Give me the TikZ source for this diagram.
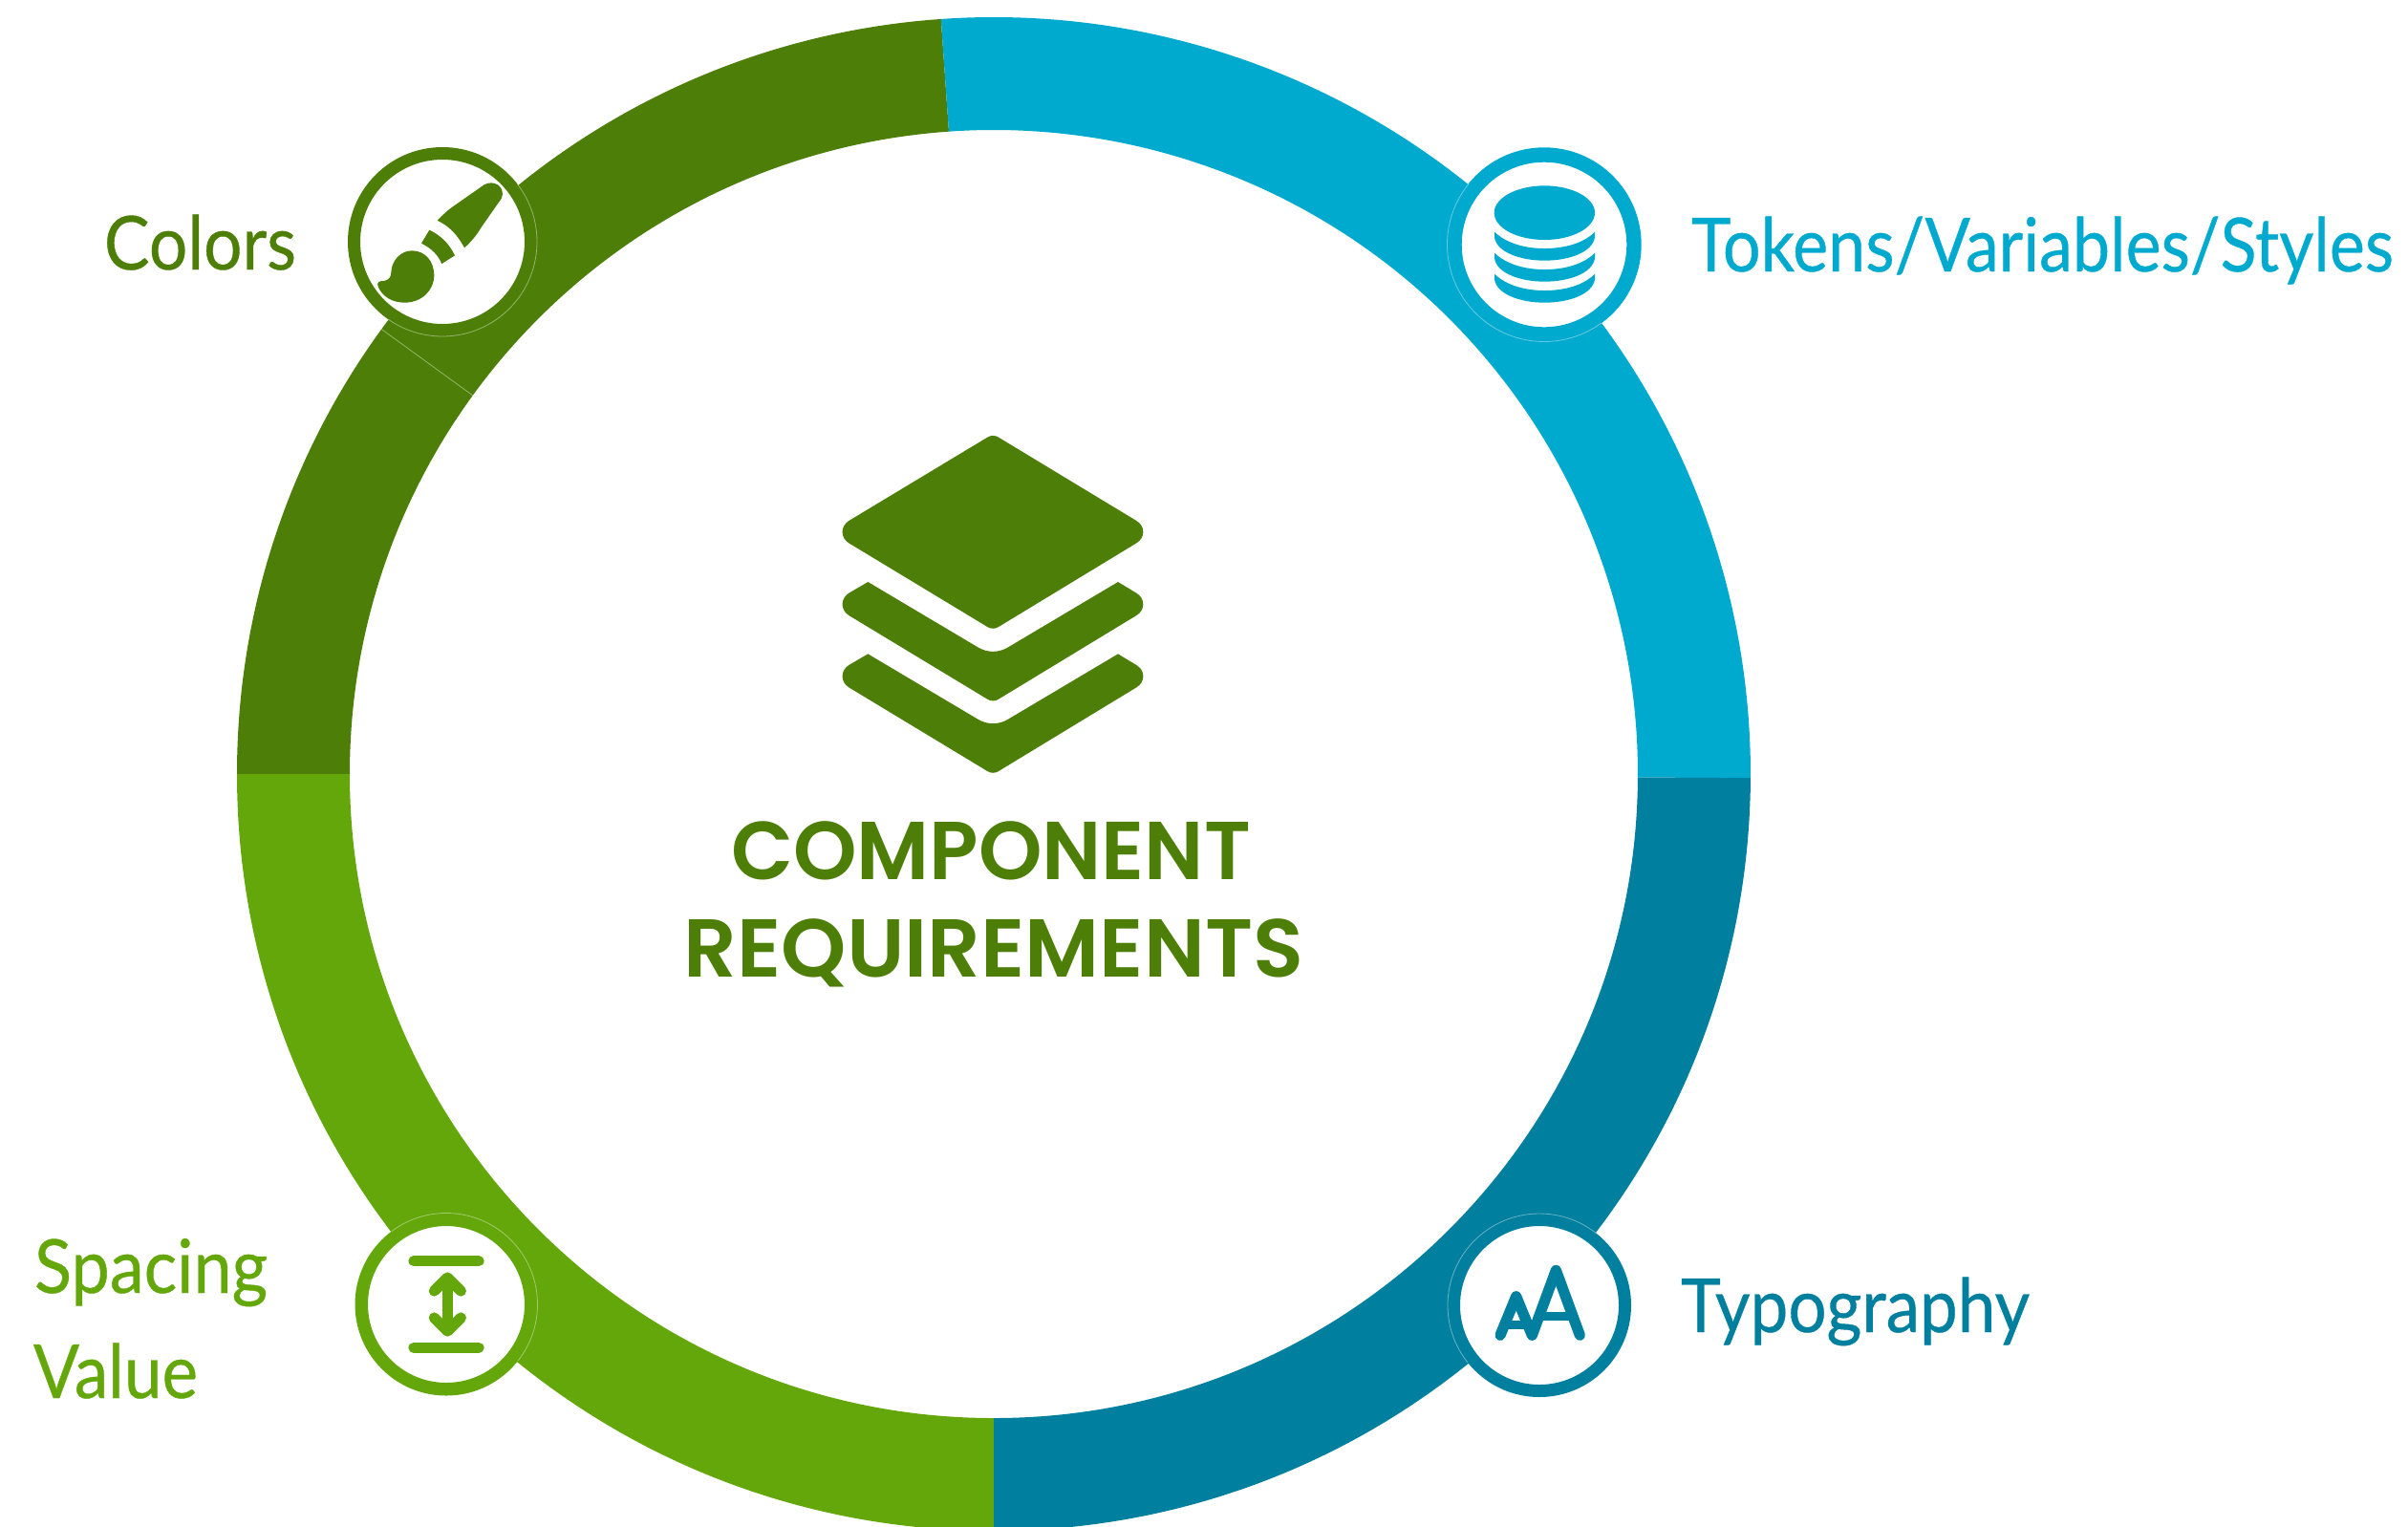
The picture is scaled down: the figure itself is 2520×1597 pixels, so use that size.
\documentclass[tikz,border=0pt]{standalone}
\usepackage{graphicx}
\usepackage{fontspec}
\setmainfont{Lato}[FakeBold=0.5]
\newfontfamily\ttlfont{Poppins SemiBold}
\definecolor{dkgreen}{HTML}{4D7F08}
\definecolor{ltgreen}{HTML}{64A70B}
\definecolor{ltblue}{HTML}{00A9CE}
\definecolor{dkblue}{HTML}{007F9E}
\newcommand\fitw[2]{\resizebox{#1}{\height}{#2}}
\newcommand\labfont{\fontsize{39}{42}\selectfont}
\newcommand\bigfont{\ttlfont\fontsize{43}{46}\selectfont}
\tikzset{
  badge/.style={circle,draw=#1,fill=white,inner sep=0pt,outer sep=0pt},
  lab/.style={anchor=base west,inner sep=0pt,outer sep=0pt,text=#1},
  ttl/.style={anchor=base,inner sep=0pt,outer sep=0pt,text=dkgreen},
  hair/.style={draw=white,draw opacity=0.4,line width=0.4pt},
  zoomed/.style={x=0.16667pt,y=-0.16667pt},
  up/.style={x=0.5pt,y=0.5pt},
  ico/.style={draw=#1,line width=5.6pt,line cap=round,line join=round}
}
\begin{document}
\begin{tikzpicture}[x=0.5pt,y=-0.5pt]
\useasboundingbox (0,0) rectangle (2520,1597);
\begin{scope}
\clip (0,0) rectangle (2520,1597);
\begin{scope}[shift={(1040,810)},up]
\fill[dkgreen] (180:792) arc[start angle=180,end angle=94,radius=792] -- (94:674) arc[start angle=94,end angle=180,radius=674] -- cycle;
\fill[ltblue] (94:792) arc[start angle=94,end angle=-0.3,radius=792] -- (-0.3:674) arc[start angle=-0.3,end angle=94,radius=674] -- cycle;
\fill[ltgreen] (180:792) arc[start angle=180,end angle=270,radius=792] -- (270:674) arc[start angle=270,end angle=180,radius=674] -- cycle;
\fill[dkblue] (270:792) arc[start angle=270,end angle=359.7,radius=792] -- (359.7:674) arc[start angle=359.7,end angle=270,radius=674] -- cycle;
\draw[hair] (144:674) -- (144:792);
\end{scope}
\end{scope}
% badges
\node[badge=dkgreen,minimum size=92.5pt,line width=6.5pt] (b1) at (463,253) {};
\node[badge=ltblue,minimum size=94pt,line width=7.7pt] (b2) at (1616,256) {};
\node[badge=ltgreen,minimum size=88.75pt,line width=6.75pt] (b3) at (467,1365) {};
\node[badge=dkblue,minimum size=89.5pt,line width=6.5pt] (b4) at (1611,1366) {};
\begin{scope}[shift={(b1.center)},up]
\draw[hair] (37.6:99) arc[start angle=37.6,end angle=-125,radius=99];
\end{scope}
\begin{scope}[shift={(b2.center)},up]
\draw[hair] (141:101.5) arc[start angle=141,end angle=306,radius=101.5];
\end{scope}
\begin{scope}[shift={(b3.center)},up]
\draw[hair] (127:95.5) arc[start angle=127,end angle=-38,radius=95.5];
\end{scope}
\begin{scope}[shift={(b4.center)},up]
\draw[hair] (52:96) arc[start angle=52,end angle=218.6,radius=96];
\end{scope}
% brush icon
\begin{scope}[shift={(330,120)},zoomed]
\fill[dkgreen] (383,332) .. controls (400,315) and (415,300) .. (430,290) -- (530,220) .. controls (560,203) and (598,225) .. (585,262) -- (520,355) .. controls (505,380) and (490,398) .. (468,418) .. controls (445,375) and (420,350) .. (383,332) -- cycle;
\fill[dkgreen] (358,362) -- (333,404) .. controls (365,420) and (385,440) .. (397,468) -- (438,442) .. controls (420,405) and (395,380) .. (358,362) -- cycle;
\fill[dkgreen] (197,540) .. controls (190,525) and (205,521) .. (215,522) .. controls (230,520) and (238,510) .. (238,495) .. controls (240,455) and (270,427) .. (303,427) .. controls (345,427) and (373,460) .. (373,505) .. controls (373,550) and (335,590) .. (280,590) .. controls (240,590) and (210,570) .. (197,540) -- cycle;
\end{scope}
% database icon
\begin{scope}[shift={(1480,120)},zoomed]
\fill[ltblue] (409,308) ellipse[x radius=158,y radius=85];
\foreach \d in {0,66,132}{
\fill[ltblue] (252,368+\d) .. controls (290,405+\d) and (350,420+\d) .. (409,420+\d) .. controls (470,420+\d) and (530,405+\d) .. (567,368+\d) -- (567,385+\d) .. controls (560,430+\d) and (490,458+\d) .. (409,458+\d) .. controls (330,458+\d) and (258,430+\d) .. (252,385+\d) -- cycle;
}
\end{scope}
% spacing icon
\begin{scope}[shift={(340,1240)},zoomed]
\draw[ico=ltgreen] (279,239) -- (483,239);
\draw[ico=ltgreen] (279,511) -- (483,511);
\draw[ico=ltgreen,line cap=butt] (385,300) -- (385,450);
\draw[ico=ltgreen] (343,333) -- (385,291) -- (427,333);
\draw[ico=ltgreen] (343,417) -- (385,459) -- (427,417);
\end{scope}
% type icon
\begin{scope}[shift={(1490,1240)},zoomed]
\draw[ico=dkblue] (490,472) -- (415,268) -- (340,472) -- (290,350) -- (240,472);
\draw[ico=dkblue,line width=4.6pt,line cap=butt] (370,412) -- (465,412);
\draw[ico=dkblue,line width=4.6pt,line cap=butt] (258,439) -- (325,439);
\end{scope}
% layers icon
\begin{scope}[shift={(860,440)},zoomed]
\fill[dkgreen] (520,53) .. controls (530,46) and (545,46) .. (555,53) -- (988,315) .. controls (1016,332) and (1016,368) .. (988,385) -- (555,648) .. controls (545,655) and (530,655) .. (520,648) -- (85,385) .. controls (58,368) and (58,332) .. (85,315) -- cycle;
\foreach \d in {0,226}{
\fill[dkgreen] (145,507+\d) -- (490,712+\d) .. controls (520,730+\d) and (555,730+\d) .. (585,712+\d) -- (930,507+\d) -- (988,542+\d) .. controls (1016,559+\d) and (1016,595+\d) .. (988,612+\d) -- (555,875+\d) .. controls (545,882+\d) and (530,882+\d) .. (520,875+\d) -- (85,612+\d) .. controls (58,595+\d) and (58,559+\d) .. (85,542+\d) -- cycle;
}
\end{scope}
% texts
\node[ttl] (t1) at (1037,920) {\fitw{272pt}{\bigfont COMPONENT}};
\node[ttl] (t2) at (1040,1022) {\fitw{324pt}{\bigfont REQUIREMENTS}};
\node[lab=dkgreen] (l1) at (109,282) {\fitw{100.5pt}{\labfont Colors}};
\node[lab=ltblue] (l2) at (1770,284) {\fitw{367.5pt}{\labfont Tokens/Variables/Styles}};
\node[lab=ltgreen] (l3) at (36,1353) {\fitw{122pt}{\labfont Spacing}};
\node[lab=ltgreen] (l4) at (35,1463) {\fitw{86pt}{\labfont Value}};
\node[lab=dkblue] (l5) at (1759,1394) {\fitw{182.5pt}{\labfont Typography}};
\end{tikzpicture}
\end{document}
